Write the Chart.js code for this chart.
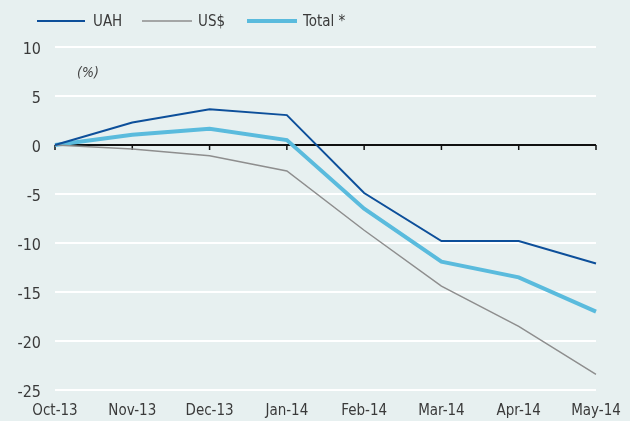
<!DOCTYPE html>
<html><head><meta charset="utf-8">
<script src="https://cdn.jsdelivr.net/npm/chart.js@4"></script>
<style>html,body{margin:0;padding:0;background:#E7F0F0;}#wrap{width:630px;height:421px;position:relative;}</style>
</head><body><div id="wrap"><canvas id="c" width="630" height="421"></canvas></div>
<script>
const categories = ['Oct-13','Nov-13','Dec-13','Jan-14','Feb-14','Mar-14','Apr-14','May-14'];
const uah = [0, 2.3, 3.65, 3.05, -4.9, -9.8, -9.8, -12.1];
const usd = [0, -0.4, -1.1, -2.65, -8.7, -14.4, -18.5, -23.4];
const total = [0, 1.05, 1.65, 0.5, -6.5, -11.9, -13.5, -17.0];
const yTicks = [10, 5, 0, -5, -10, -15, -20, -25];
const unitLabel = '(%)';

const FONT = '"Liberation Sans Narrow","Arial Narrow","DejaVu Sans Condensed",sans-serif';
const TXT = '#3a3a3a';

const deco = {
  id: 'deco',
  beforeDraw(chart) {
    const ctx = chart.ctx;
    ctx.save();
    ctx.fillStyle = '#E7F0F0';
    ctx.fillRect(0, 0, chart.width, chart.height);
    ctx.restore();
  },
  beforeDatasetsDraw(chart) {
    const ctx = chart.ctx, x = chart.scales.x, y = chart.scales.y;
    const y0 = y.getPixelForValue(0);
    ctx.save();
    ctx.strokeStyle = '#111';
    ctx.lineWidth = 2;
    ctx.beginPath();
    ctx.moveTo(x.left, y0); ctx.lineTo(x.right, y0);
    ctx.stroke();
    ctx.lineWidth = 1.5;
    categories.forEach((c, i) => {
      const px = x.getPixelForValue(i);
      ctx.beginPath(); ctx.moveTo(px, y0); ctx.lineTo(px, y0 + 5); ctx.stroke();
    });
    // y tick labels
    ctx.fillStyle = TXT;
    ctx.font = '16px ' + FONT;
    ctx.textAlign = 'right'; ctx.textBaseline = 'middle';
    yTicks.forEach(v => ctx.fillText(String(v), 41, y.getPixelForValue(v) + 3));
    ctx.fillStyle = '#444';
    ctx.font = 'italic 14px ' + FONT;
    ctx.textAlign = 'left';
    ctx.fillText(unitLabel, 77, 73);
    // legend
    const items = [[37, 85, 93], [142, 192, 198], [247, 297, 303]];
    ctx.font = '15px ' + FONT;
    chart.data.datasets.forEach((ds, i) => {
      const it = items[i];
      ctx.strokeStyle = ds.borderColor;
      ctx.lineWidth = ds.borderWidth;
      ctx.beginPath(); ctx.moveTo(it[0], 21); ctx.lineTo(it[1], 21); ctx.stroke();
      ctx.fillStyle = TXT;
      ctx.fillText(ds.label, it[2], 22);
    });
    ctx.restore();
  }
};

new Chart(document.getElementById('c'), {
  type: 'line',
  data: {
    labels: categories,
    datasets: [
      { label: 'UAH', data: uah, borderColor: '#0D4F9A', borderWidth: 2, pointRadius: 0, tension: 0 },
      { label: 'US$', data: usd, borderColor: '#8E8E8E', borderWidth: 1.5, pointRadius: 0, tension: 0 },
      { label: 'Total *', data: total, borderColor: '#5ABBDD', borderWidth: 4, pointRadius: 0, tension: 0 }
    ]
  },
  options: {
    responsive: false,
    animation: false,
    layout: { padding: { top: 47, right: 34, left: 0, bottom: 0 } },
    plugins: { legend: { display: false }, tooltip: { enabled: false } },
    scales: {
      x: {
        offset: false,
        grid: { display: false, drawTicks: false },
        border: { display: false },
        ticks: { color: TXT, font: { family: FONT, size: 15 }, padding: 12, maxRotation: 0, autoSkip: false },
        afterFit(s) { s.height = 31; s.paddingLeft = 0; s.paddingRight = 0; }
      },
      y: {
        min: -25, max: 10,
        afterBuildTicks(s) { s.ticks = yTicks.map(v => ({ value: v })); },
        grid: { color: ctx => ctx.tick && ctx.tick.value === 0 ? 'rgba(0,0,0,0)' : '#FFFFFF', lineWidth: 2, drawTicks: false },
        border: { display: false },
        ticks: { display: false },
        afterFit(s) { s.width = 55; }
      }
    }
  },
  plugins: [deco]
});
</script></body></html>
